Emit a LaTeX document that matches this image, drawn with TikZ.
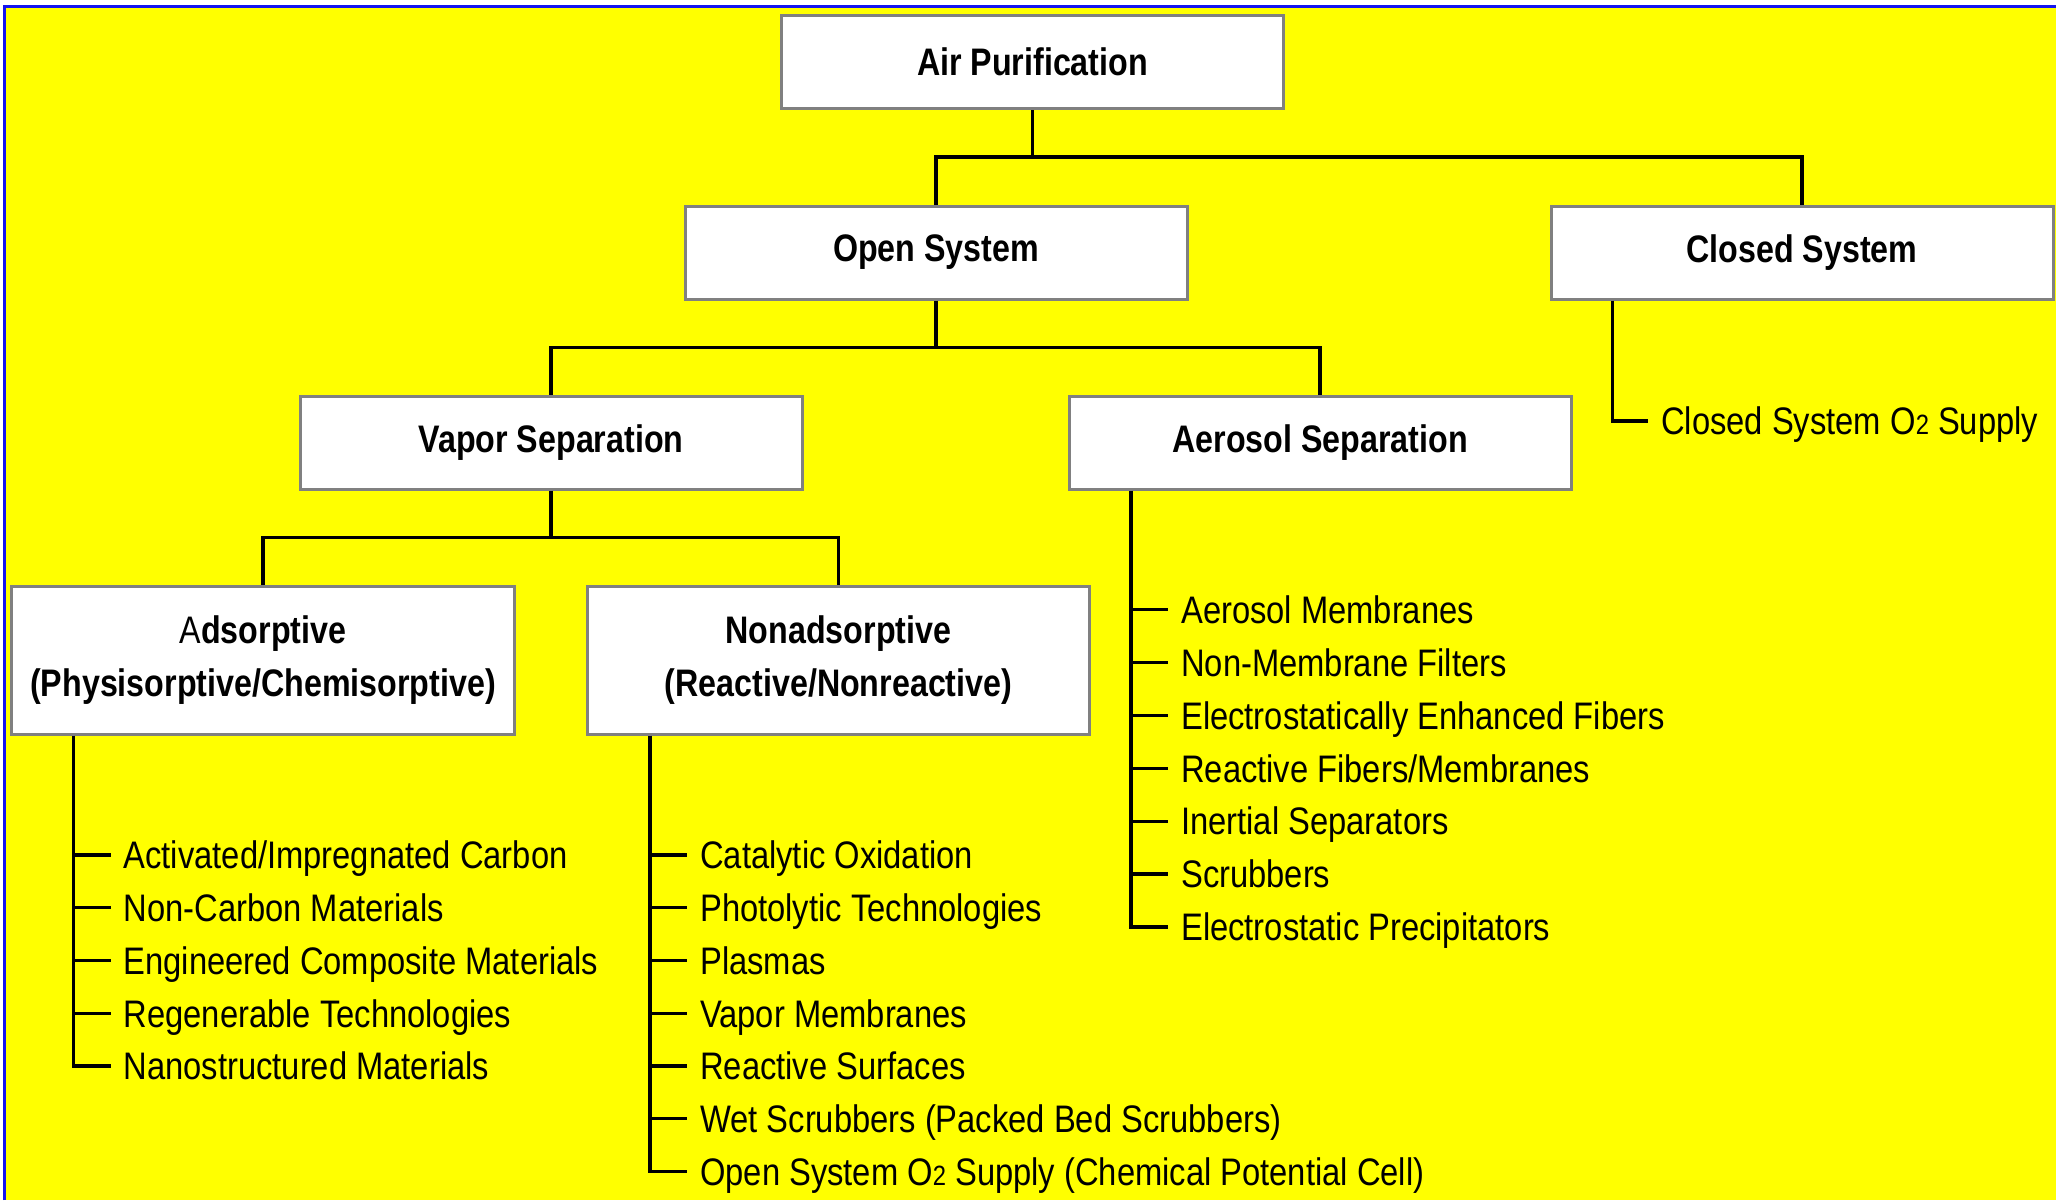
\documentclass[tikz,border=0pt]{standalone}
\usepackage{fontspec}
\setmainfont{Liberation Sans}[FakeStretch=0.84]
\newfontfamily\entryfam{Liberation Sans}[FakeStretch=0.853]
\definecolor{pageyellow}{RGB}{255,255,0}
\definecolor{frameblue}{RGB}{20,20,240}
\definecolor{boxgray}{RGB}{128,128,128}
\newcommand\hdrfont{\fontsize{38.5}{52.5}\selectfont\bfseries}
\newcommand\entryfont{\entryfam\fontsize{38.5}{46}\selectfont}
\newcommand\subtwo{{\fontsize{28}{28}\selectfont 2}}
\begin{document}
\begin{tikzpicture}[x=1bp,y=-1bp,
  catbox/.style={draw=boxgray, line width=3bp, fill=white, minimum width=502bp,
    minimum height=93bp, inner sep=0pt, font=\hdrfont, align=center},
  tallbox/.style={catbox, minimum height=148bp},
  entry/.style={anchor=west, inner sep=0pt, text height=27.6bp, text depth=0pt, font=\entryfont},
  link/.style={line width=3.2bp, black}]

% page and frame
\useasboundingbox (0,0) rectangle (2056,1200);
\fill[white] (0,0) rectangle (2056,1200);
\fill[pageyellow] (4.5,6) rectangle (2056,1200);
\draw[frameblue, line width=3bp] (4.5,1200) -- (4.5,6) -- (2056,6);

% category boxes
\node[catbox] (air) at (1032.5,62) {Air Purification};
\node[catbox] (open) at (936,252.5) {Open System};
\node[catbox] (closed) at (1802,252.5) {Closed System};
\node[catbox] (vapor) at (551,442.5) {Vapor Separation};
\node[catbox] (aerosol) at (1320,442.5) {Aerosol Separation};
\node[tallbox] (ads) at (263,660) {\mdseries A\bfseries dsorptive\\(Physisorptive/Chemisorptive)};
\node[tallbox] (nonads) at (838.5,660) {Nonadsorptive\\(Reactive/Nonreactive)};

% bus lines between levels
\coordinate (bus1) at (0,157);
\coordinate (bus2) at (0,347.5);
\coordinate (bus3) at (0,537.5);
\draw[link] (air.south) -- (air.south |- bus1);
\draw[link] (open.north) -- (open.north |- bus1) -- (closed.north |- bus1) -- (closed.north);
\draw[link] (open.south) -- (open.south |- bus2);
\draw[link] (vapor.north) -- (vapor.north |- bus2) -- (aerosol.north |- bus2) -- (aerosol.north);
\draw[link] (vapor.south) -- (vapor.south |- bus3);
\draw[link] (ads.north) -- (ads.north |- bus3) -- (nonads.north |- bus3) -- (nonads.north);

% trunks of the technology lists
\coordinate (ta) at (73.5,0);
\coordinate (tn) at (650,0);
\coordinate (tr) at (1131,0);
\coordinate (tc) at (1612.5,0);

% adsorptive technologies
\foreach \t [count=\i] in {Activated/Impregnated Carbon, Non-Carbon Materials,
    Engineered Composite Materials, Regenerable Technologies, Nanostructured Materials}
  \node[entry] (ad\i) at (123.5,{855+52.75*(\i-1)}) {\t};
\draw[link] (ads.south -| ta) -- (ta |- ad5.west) -- ([xshift=-13bp]ad5.west);
\foreach \i in {1,...,4}
  \draw[link] (ta |- ad\i.west) -- ([xshift=-13bp]ad\i.west);

% nonadsorptive technologies
\foreach \t [count=\i] in {Catalytic Oxidation, Photolytic Technologies, Plasmas,
    Vapor Membranes, Reactive Surfaces, Wet Scrubbers (Packed Bed Scrubbers),
    Open System O\subtwo\ Supply (Chemical Potential Cell)}
  \node[entry] (na\i) at (700,{855+52.75*(\i-1)}) {\t};
\draw[link] (nonads.south -| tn) -- (tn |- na7.west) -- ([xshift=-13bp]na7.west);
\foreach \i in {1,...,6}
  \draw[link] (tn |- na\i.west) -- ([xshift=-13bp]na\i.west);

% aerosol technologies
\foreach \t [count=\i] in {Aerosol Membranes, Non-Membrane Filters,
    Electrostatically Enhanced Fibers, Reactive Fibers/Membranes,
    Inertial Separators, Scrubbers, Electrostatic Precipitators}
  \node[entry] (ar\i) at (1181,{609.5+52.9*(\i-1)}) {\t};
\draw[link] (aerosol.south -| tr) -- (tr |- ar7.west) -- ([xshift=-13bp]ar7.west);
\foreach \i in {1,...,6}
  \draw[link] (tr |- ar\i.west) -- ([xshift=-13bp]ar\i.west);

% closed system supply
\node[entry] (cs) at (1661,421) {Closed System O\subtwo\ Supply};
\draw[link] (closed.south -| tc) -- (tc |- cs.west) -- ([xshift=-13bp]cs.west);
\end{tikzpicture}
\end{document}
